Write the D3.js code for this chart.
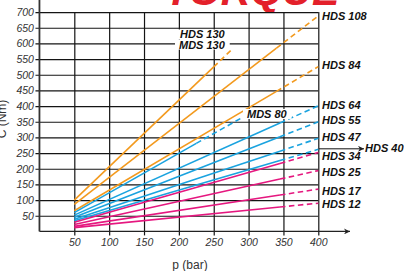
<!DOCTYPE html>
<html>
<head>
<meta charset="utf-8">
<script src="https://cdn.jsdelivr.net/npm/d3@7"></script>
<style>
  body { margin: 0; background: #fff; }
  svg { display: block; }
  .tick text { font-family: "Liberation Sans", Arial, sans-serif; font-style: italic; font-size: 10.5px; fill: #333; }
  .lbl { font-family: "Liberation Sans", Arial, sans-serif; font-style: italic; font-weight: bold; font-size: 11px; fill: #111; }
</style>
</head>
<body>
<svg id="chart" width="404" height="271"></svg>
<script>
// pressure (bar) and torque (Nm) ticks
var pressureTicks = [50, 100, 150, 200, 250, 300, 350, 400];
var torqueTicks = [50, 100, 150, 200, 250, 300, 350, 400, 450, 500, 550, 600, 650, 700];

// motors, each read as: start point, end of solid part, end of dashed part
var motors = ["HDS 130", "HDS 108", "HDS 84", "MDS 80", "HDS 64", "HDS 55", "HDS 47", "HDS 40", "HDS 34", "HDS 25", "HDS 17", "HDS 12"];
var family = ["orange", "orange", "orange", "blue", "blue", "blue", "blue", "blue", "pink", "pink", "pink", "pink"];
var startP   = [50, 50, 50, 50, 50, 50, 50, 50, 50, 50, 50, 50];
var startT   = [100, 86, 66, 60, 52, 45, 39, 34, 29, 22, 16, 12];
var solidP   = [250, 340, 340, 225, 345, 345, 345, 345, 345, 345, 345, 345];
var solidT   = [525, 585, 447, 281, 346, 302, 256, 226, 217, 167, 116, 78];
var endP     = [277, 400, 400, 300, 400, 400, 400, 400, 400, 400, 400, 400];
var endT     = [583, 688, 526, 375, 401, 350, 297, 262, 252, 194, 135, 90];

var colors = { orange: "#f39a1e", blue: "#1aa3df", pink: "#e5177f" };

var svg = d3.select("#chart");

var x = d3.scaleLinear().domain([0, 400]).range([39.45, 318.3]);
var y = d3.scaleLinear().domain([0, 700]).range([231.4, 12.1]);

// title, mostly outside the picture
svg.append("text")
    .attr("x", 252).attr("y", 5)
    .attr("text-anchor", "middle")
    .style("font-family", "Liberation Sans, Arial, sans-serif")
    .style("font-weight", "bold")
    .style("font-style", "italic")
    .style("font-size", "41px")
    .style("fill", "#e3202a")
    .text("TORQUE");

// grid through the axes
svg.append("g")
    .attr("class", "axis")
    .attr("transform", `translate(${x(0) - 4},0)`)
    .call(d3.axisLeft(y)
        .tickValues(torqueTicks)
        .tickSize(-(x(400) - x(0) + 4))
        .tickSizeOuter(0)
        .tickPadding(1.5));

svg.append("g")
    .attr("class", "axis")
    .attr("transform", `translate(0,${y(0) + 4})`)
    .call(d3.axisBottom(x)
        .tickValues(pressureTicks)
        .tickSize(-(y(0) - y(700) + 4))
        .tickSizeOuter(0)
        .tickPadding(3.6));

svg.selectAll(".axis .domain").remove();
svg.selectAll(".axis .tick line").attr("stroke", "#141414").attr("stroke-width", 1.2);

// axis lines with arrows
svg.append("defs").append("marker")
    .attr("id", "arrow")
    .attr("viewBox", "0 0 10 10")
    .attr("refX", 10).attr("refY", 5)
    .attr("markerWidth", 9).attr("markerHeight", 6)
    .attr("markerUnits", "userSpaceOnUse")
    .attr("orient", "auto")
    .append("path")
    .attr("d", "M0,0 L10,5 L0,10 L3,5 Z")
    .attr("fill", "#222");

svg.append("line")
    .attr("x1", x(0)).attr("x2", 350)
    .attr("y1", y(0)).attr("y2", y(0))
    .attr("stroke", "#222").attr("stroke-width", 1.4)
    .attr("marker-end", "url(#arrow)");

svg.append("line")
    .attr("x1", x(0)).attr("x2", x(0))
    .attr("y1", y(0)).attr("y2", -6)
    .attr("stroke", "#333").attr("stroke-width", 1.8);

// axis titles
svg.append("text")
    .attr("x", 190).attr("y", 269)
    .attr("text-anchor", "middle")
    .style("font-family", "Liberation Sans, Arial, sans-serif")
    .style("font-size", "12px")
    .style("fill", "#333")
    .text("p (bar)");

svg.append("text")
    .attr("transform", "translate(6,119) rotate(-90)")
    .attr("text-anchor", "middle")
    .style("font-family", "Liberation Sans, Arial, sans-serif")
    .style("font-size", "12px")
    .style("fill", "#333")
    .text("C (Nm)");

// curves
var line = d3.line().x(d => x(d[0])).y(d => y(d[1]));
var curves = svg.append("g");

motors.forEach(function (m, i) {
    var c = colors[family[i]];
    curves.append("path")
        .attr("d", line([[startP[i], startT[i]], [solidP[i], solidT[i]]]))
        .attr("fill", "none").attr("stroke", c).attr("stroke-width", 1.6);
    curves.append("path")
        .attr("d", line([[solidP[i], solidT[i]], [endP[i], endT[i]]]))
        .attr("fill", "none").attr("stroke", c).attr("stroke-width", 1.6)
        .attr("stroke-dasharray", "5.5,3.5");
});

// labels at the right end
var nudge = { "HDS 108": 0, "HDS 84": -2, "HDS 64": -0.5, "HDS 55": -1.5, "HDS 47": -1.5,
              "HDS 34": 3.5, "HDS 25": 1, "HDS 17": 1.5, "HDS 12": 1 };

motors.forEach(function (m, i) {
    if (!(m in nudge)) return;
    svg.append("text")
        .attr("class", "lbl")
        .attr("x", 322)
        .attr("y", y(endT[i]) + nudge[m])
        .attr("dy", "0.36em")
        .text(m);
});

// HDS 40 with its arrow
var i40 = motors.indexOf("HDS 40");
svg.append("line")
    .attr("x1", 319).attr("x2", 364)
    .attr("y1", y(endT[i40]) - 0.5).attr("y2", y(endT[i40]) - 0.5)
    .attr("stroke", "#111").attr("stroke-width", 1)
    .attr("marker-end", "url(#arrow)");
svg.append("text")
    .attr("class", "lbl")
    .attr("x", 365)
    .attr("y", y(endT[i40]) - 1)
    .attr("dy", "0.36em")
    .text("HDS 40");

// boxed labels inside the grid
function boxed(txt, px, py) {
    var g = svg.append("g");
    var t = g.append("text").attr("class", "lbl")
        .attr("x", px).attr("y", py).attr("dy", "0.36em").text(txt);
    var b = t.node().getBBox();
    g.insert("rect", "text")
        .attr("x", b.x - 4).attr("y", b.y + 1)
        .attr("width", b.width + 8).attr("height", b.height - 2)
        .attr("fill", "#fff");
}

boxed("HDS 130", 180, 34.5);
boxed("MDS 130", 179, 44.6);
boxed("MDS 80", 247, 114);
</script>
</body>
</html>
